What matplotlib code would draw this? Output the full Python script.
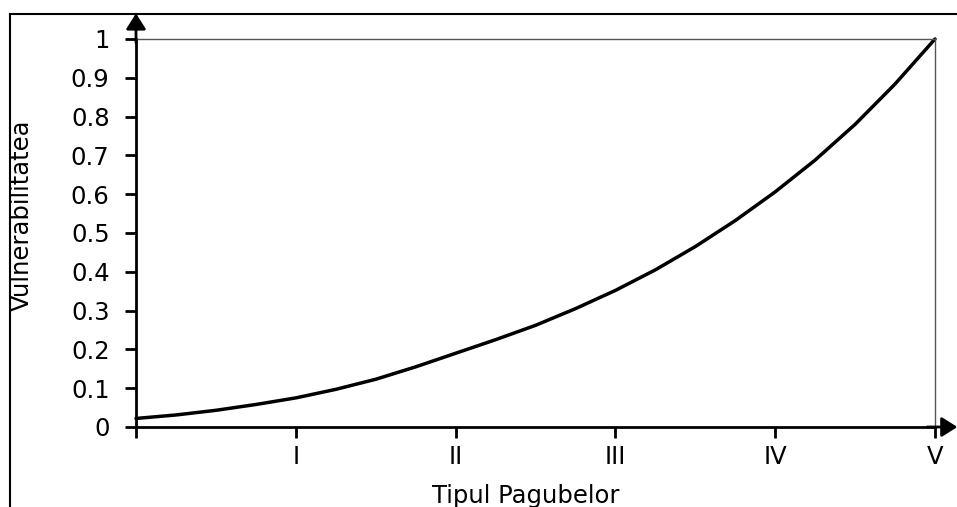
import numpy as np
import matplotlib.pyplot as plt
from matplotlib.lines import Line2D

plt.rcParams['font.family'] = ['DejaVu Sans']

# curve, x in damage classes (0..5)
x_vals = [0, 0.25, 0.5, 0.75, 1, 1.25, 1.5, 1.75, 2, 2.25, 2.5, 2.75,
          3, 3.25, 3.5, 3.75, 4, 4.25, 4.5, 4.75, 5]
vuln = [0.022, 0.031, 0.043, 0.058, 0.075, 0.097, 0.123, 0.155, 0.19, 0.225,
        0.262, 0.305, 0.352, 0.405, 0.465, 0.532, 0.606, 0.688, 0.78, 0.884, 1.0]

x_ticks = [0, 1, 2, 3, 4, 5]
x_labels = ['', 'I', 'II', 'III', 'IV', 'V']
y_ticks = [0, 0.1, 0.2, 0.3, 0.4, 0.5, 0.6, 0.7, 0.8, 0.9, 1]
y_labels = ['0', '0.1', '0.2', '0.3', '0.4', '0.5', '0.6', '0.7', '0.8', '0.9', '1']

W, H = 957, 507
fs = 17.5
fig = plt.figure(figsize=(W / 100, H / 100), dpi=100)
ax = fig.add_axes([136 / W, 1 - 427 / H, (935 - 136) / W, (427 - 39) / H])

ax.plot(x_vals, vuln, color='black', lw=2.5, solid_capstyle='round',
        solid_joinstyle='round', clip_on=False)

ax.set_xlim(0, 5)
ax.set_ylim(0, 1)
ax.set_xticks(x_ticks)
ax.set_xticklabels(x_labels)
ax.set_yticks(y_ticks)
ax.set_yticklabels(y_labels)
ax.tick_params(axis='both', direction='out', length=8, width=2, labelsize=fs)
ax.tick_params(axis='y', pad=11)
ax.tick_params(axis='x', pad=5)

for s in ['left', 'bottom']:
    ax.spines[s].set_linewidth(2)
for s in ['top', 'right']:
    ax.spines[s].set_linewidth(1)
    ax.spines[s].set_color('#555555')

# axis arrows
arrow = dict(arrowstyle='-|>,head_length=0.95,head_width=0.6',
             color='black', lw=2, shrinkA=0, shrinkB=0)
ax.annotate('', xy=(0, 1.066), xycoords='axes fraction', xytext=(0, 0.99),
            arrowprops=arrow)
ax.annotate('', xy=(1.028, 0), xycoords='axes fraction', xytext=(0.99, 0),
            arrowprops=arrow)

fig.text(22 / W, 1 - 215 / H, 'Vulnerabilitatea', rotation=90, fontsize=fs,
         ha='center', va='center')
fig.text(526 / W, 4 / H, 'Tipul Pagubelor', fontsize=fs, ha='center', va='baseline')

# outer frame (left and top only)
fig.add_artist(Line2D([10 / W, 10 / W], [0, 1 - 14 / H], color='black', lw=1.5))
fig.add_artist(Line2D([10 / W, 1], [1 - 14 / H, 1 - 14 / H], color='black', lw=1.5))

fig.savefig('out.png', dpi=100)
